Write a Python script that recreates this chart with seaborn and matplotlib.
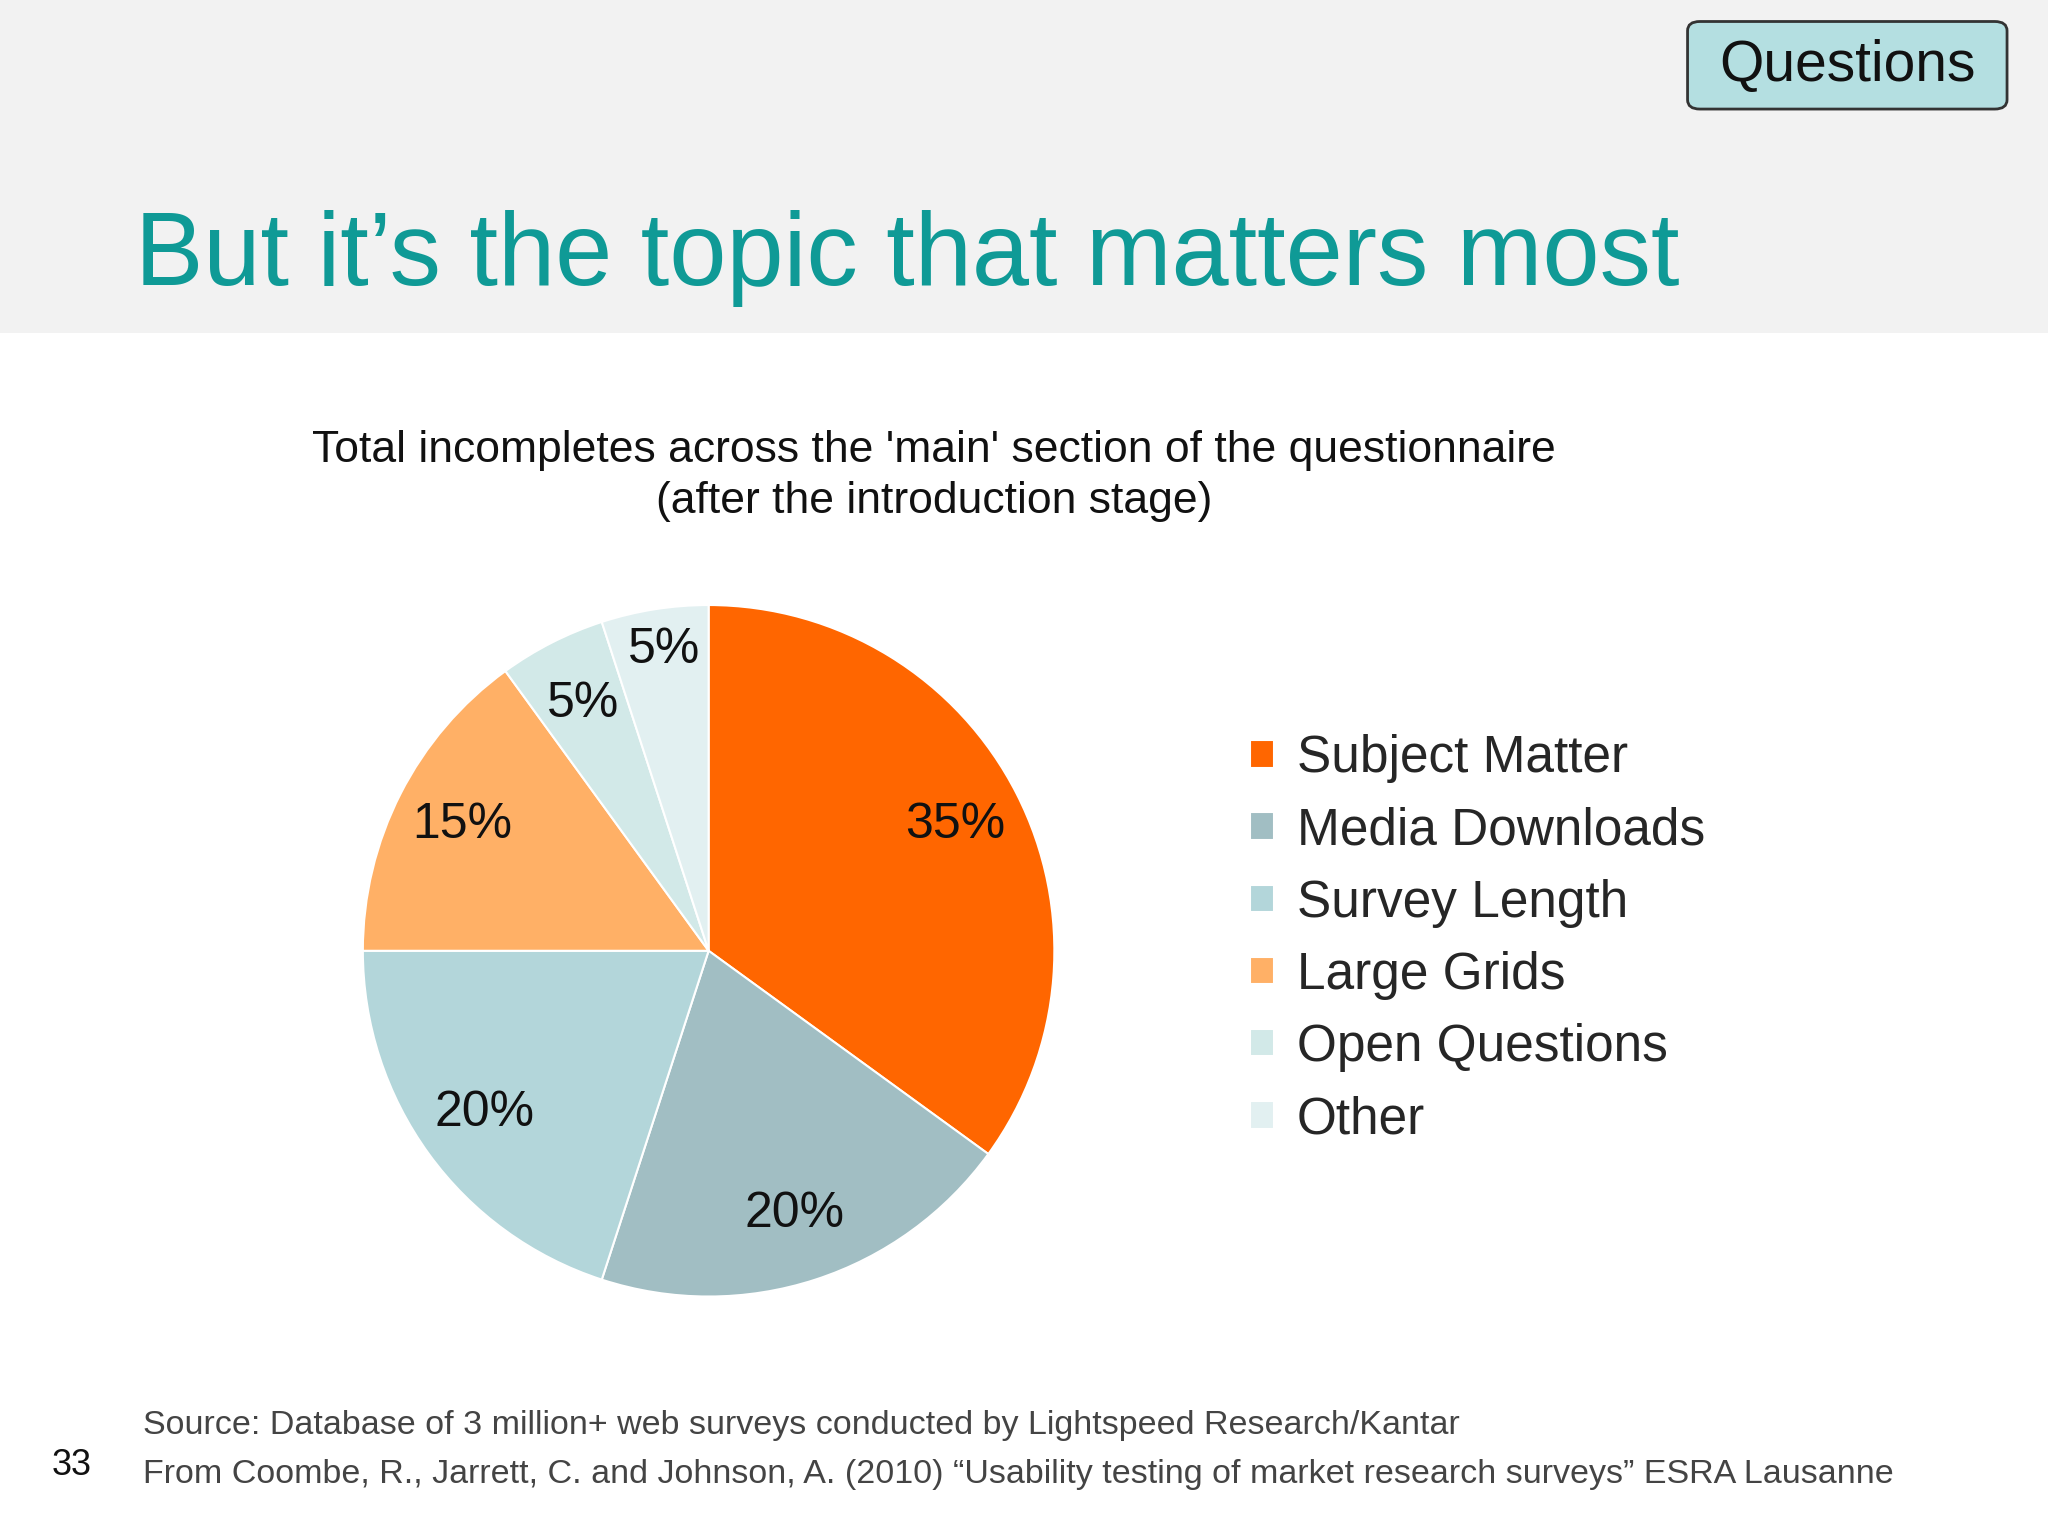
import matplotlib
matplotlib.use("Agg")
import matplotlib.pyplot as plt
import seaborn as sns
from matplotlib.patches import Rectangle, FancyBboxPatch

categories = ["Subject Matter", "Media Downloads", "Survey Length",
              "Large Grids", "Open Questions", "Other"]
shares = [35, 20, 20, 15, 5, 5]
colors = ["#ff6600", "#a1bec3", "#b3d6da", "#ffb066", "#d2e9e8", "#e2f0f1"]

title = "But it\u2019s the topic that matters most"
subtitle = "Total incompletes across the 'main' section of the questionnaire\n(after the introduction stage)"
source_lines = [
    "Source: Database of 3 million+ web surveys conducted by Lightspeed Research/Kantar",
    "From Coombe, R., Jarrett, C. and Johnson, A. (2010) \u201cUsability testing of market research surveys\u201d ESRA Lausanne",
]

sns.set_theme(style="white")
plt.rcParams["font.family"] = ["Liberation Sans", "DejaVu Sans"]

fig = plt.figure(figsize=(20.48, 15.36), dpi=100)
fig.patch.set_facecolor("white")

# header band
fig.patches.append(Rectangle((0, 0.783), 1, 0.217, transform=fig.transFigure,
                             facecolor="#f2f2f2", edgecolor="none", zorder=0))
fig.text(0.066, 0.832, title, fontsize=74, color="#0f9a96", va="center")

# Questions button
fig.patches.append(FancyBboxPatch((0.826, 0.931), 0.152, 0.053,
                                  boxstyle="round,pad=0.002,rounding_size=0.006",
                                  transform=fig.transFigure, facecolor="#b4dfe1",
                                  edgecolor="#333333", linewidth=2, zorder=2))
fig.text(0.902, 0.957, "Questions", fontsize=41, color="#111111",
         ha="center", va="center", zorder=3)

fig.text(0.456, 0.690, subtitle, fontsize=32, color="#111111",
         ha="center", va="center", linespacing=1.3)

# pie
cx, cy = 0.346, 0.381
rw, rh = 0.1724, 0.2296
ax = fig.add_axes([cx - rw, cy - rh, 2 * rw, 2 * rh])
wedges, texts = ax.pie(shares, colors=colors, startangle=90, counterclock=False,
                       labels=[f"{v}%" for v in shares], labeldistance=0.8,
                       wedgeprops=dict(edgecolor="white", linewidth=1.5),
                       textprops=dict(fontsize=36, color="#111111"))
for t in texts:
    t.set_ha("center")
    t.set_va("center")
texts[5].set_position((-0.13, 0.87))
ax.set_xlim(-1.02, 1.02)
ax.set_ylim(-1.02, 1.02)
ax.set_aspect("equal")
ax.axis("off")

fig.legend(wedges, categories, loc="upper left", bbox_to_anchor=(0.588, 0.552),
           frameon=False, fontsize=37, handlelength=0.45, handleheight=0.45,
           handletextpad=0.45, labelspacing=0.45)

# footer
fig.text(0.070, 0.072, source_lines[0], fontsize=24.5, color="#444444", va="center")
fig.text(0.070, 0.040, source_lines[1], fontsize=24.5, color="#444444", va="center")
fig.text(0.025, 0.046, "33", fontsize=26, color="#111111", va="center")

fig.savefig("out.png", dpi=100)
